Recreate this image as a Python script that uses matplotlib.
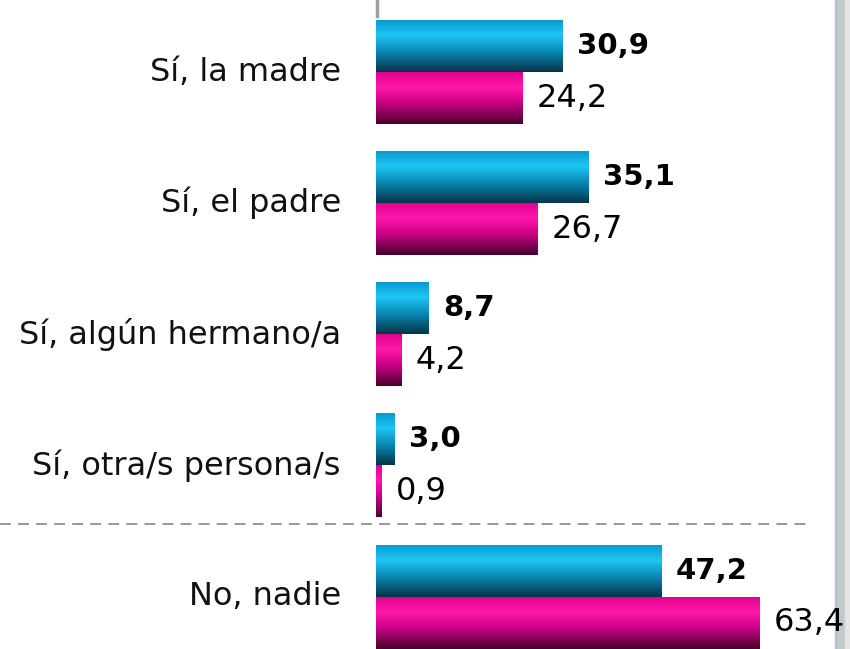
import numpy as np
import matplotlib.pyplot as plt
from matplotlib.colors import LinearSegmentedColormap
from matplotlib.patches import Rectangle

categorias = ['Sí, la madre', 'Sí, el padre', 'Sí, algún hermano/a',
              'Sí, otra/s persona/s', 'No, nadie']
serie_azul = [30.9, 35.1, 8.7, 3.0, 47.2]
serie_rosa = [24.2, 26.7, 4.2, 0.9, 63.4]
etiquetas_azul = ['30,9', '35,1', '8,7', '3,0', '47,2']
etiquetas_rosa = ['24,2', '26,7', '4,2', '0,9', '63,4']

fig = plt.figure(figsize=(8.5, 6.49), dpi=100)
ax = fig.add_axes([0, 0, 1, 1])
ax.axis('off')

# degradados tipo cilindro (de arriba a abajo)
cmap_azul = LinearSegmentedColormap.from_list(
    'azul', [(0, '#0898cc'), (0.3, '#1ec6f6'), (0.6, '#0a8cb6'), (1, '#06344a')])
cmap_rosa = LinearSegmentedColormap.from_list(
    'rosa', [(0, '#e0008c'), (0.3, '#ff18ac'), (0.6, '#cc0086'), (1, '#4a002c')])
grad = np.linspace(0, 1, 100).reshape(-1, 1)

y = np.arange(len(categorias))
h = 0.397

def barras(offset, valores, cmap):
    bars = ax.barh(y + offset, valores, height=h, color='none', edgecolor='none')
    for b in bars:
        x0, y0 = b.get_x(), b.get_y()
        w, hh = b.get_width(), b.get_height()
        im = ax.imshow(grad, cmap=cmap, aspect='auto',
                       extent=(x0, x0 + w, y0 + hh, y0), zorder=2)
        im.set_clip_path(b)
    return bars

barras(-h / 2, serie_azul, cmap_azul)
barras(h / 2, serie_rosa, cmap_rosa)
ax.set_xlim(-62.15, 78.35)
ax.set_ylim(4.40, -0.55)

for i, cat in enumerate(categorias):
    ax.text(-5.8, i, cat, ha='right', va='center', fontsize=23, color='#111111')
    ax.text(serie_azul[i] + 2.4, i - h / 2, etiquetas_azul[i], ha='left',
            va='center', fontsize=21, fontweight='bold', color='black')
    ax.text(serie_rosa[i] + 2.4, i + h / 2, etiquetas_rosa[i], ha='left',
            va='center', fontsize=23, color='black')

# eje corto arriba
ax.plot([0.2, 0.2], [-0.55, -0.43], color='#a0a0a0', lw=2.5)

# línea discontinua
ax.plot([-62.15, 71.4], [3.45, 3.45], color='#909090', lw=1.3,
        dashes=(6, 4))

# barra gris a la derecha (detrás del texto)
fig.patches.append(Rectangle((835 / 850, 0), 1.5 / 850, 1, transform=fig.transFigure,
                             color='#b8bce0', zorder=-1))
fig.patches.append(Rectangle((836.5 / 850, 0), 8.5 / 850, 1, transform=fig.transFigure,
                             color='#c0c8c8', zorder=-1))
fig.patches.append(Rectangle((845 / 850, 0), 5 / 850, 1, transform=fig.transFigure,
                             color='#e4e4e4', zorder=-1))

plt.savefig('out.png', dpi=100)
